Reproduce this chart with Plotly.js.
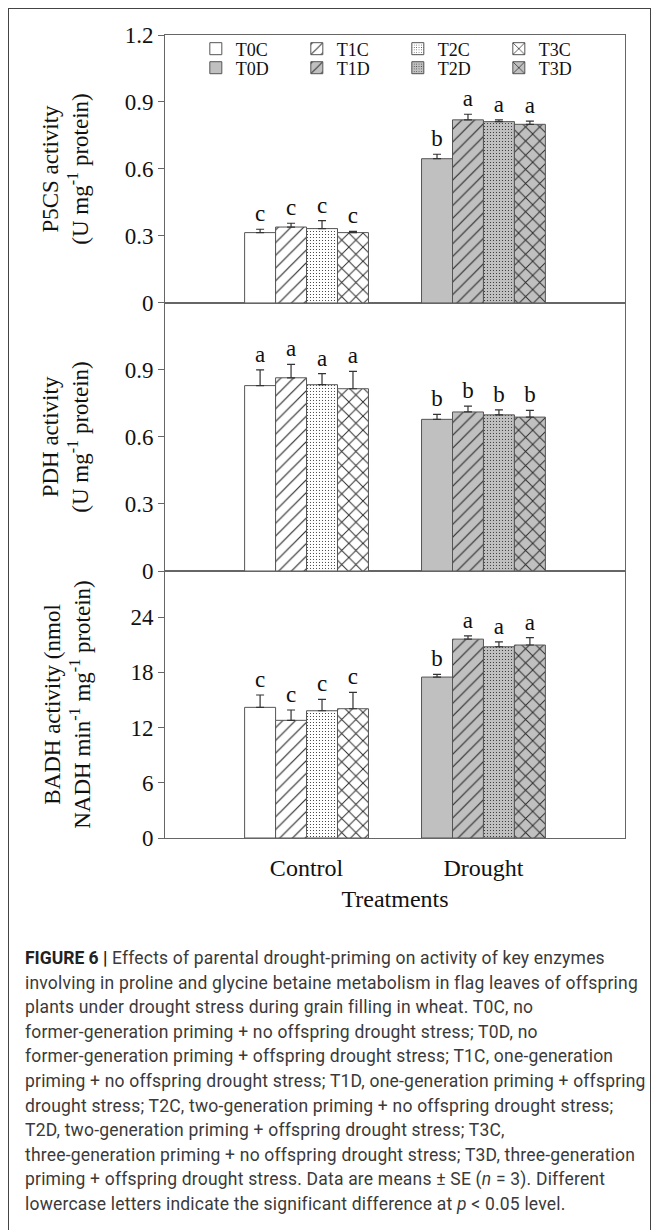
<!DOCTYPE html>
<html>
<head>
<meta charset="utf-8">
<script src="https://cdn.plot.ly/plotly-3.0.1.min.js"></script>
<style>
  html, body { margin:0; padding:0; background:#fff; }
  #wrap { position:relative; width:657px; height:1230px; overflow:hidden; }
  #frame { position:absolute; left:8px; top:8px; width:643px; height:1240px; border:1.5px solid #444; box-sizing:border-box; }
  #chart { position:absolute; left:0; top:0; width:657px; height:940px; }
  #caption { position:absolute; left:25px; top:946px; font-family:Roboto, "Liberation Sans", sans-serif; font-size:17.5px; letter-spacing:0.2px; line-height:24.6px; color:#3a3a3a; white-space:nowrap; }
  #caption b { color:#222; letter-spacing:0; }
</style>
</head>
<body>
<div id="wrap">
  <div id="frame"></div>
  <div id="chart"></div>
  <div id="caption">
    <b>FIGURE 6 |</b> Effects of parental drought-priming on activity of key enzymes<br>
    involving in proline and glycine betaine metabolism in flag leaves of offspring<br>
    plants under drought stress during grain filling in wheat. T0C, no<br>
    former-generation priming + no offspring drought stress; T0D, no<br>
    former-generation priming + offspring drought stress; T1C, one-generation<br>
    priming + no offspring drought stress; T1D, one-generation priming + offspring<br>
    drought stress; T2C, two-generation priming + no offspring drought stress;<br>
    T2D, two-generation priming + offspring drought stress; T3C,<br>
    three-generation priming + no offspring drought stress; T3D, three-generation<br>
    priming + offspring drought stress. Data are means ± SE (<i>n</i> = 3). Different<br>
    lowercase letters indicate the significant difference at <i>p</i> &lt; 0.05 level.
  </div>
</div>
<script>
// ---------------- data ----------------
const categories = ['Control', 'Drought'];
const seriesNames = ['T0', 'T1', 'T2', 'T3'];

// P5CS activity (U mg-1 protein)
const p5csControl   = [0.315, 0.340, 0.333, 0.315];
const p5csControlSE = [0.015, 0.017, 0.036, 0.006];
const p5csDrought   = [0.646, 0.820, 0.812, 0.800];
const p5csDroughtSE = [0.020, 0.025, 0.008, 0.014];
const p5csLettersC  = ['c', 'c', 'c', 'c'];
const p5csLettersD  = ['b', 'a', 'a', 'a'];

// PDH activity (U mg-1 protein)
const pdhControl   = [0.830, 0.865, 0.834, 0.816];
const pdhControlSE = [0.070, 0.060, 0.050, 0.078];
const pdhDrought   = [0.679, 0.712, 0.699, 0.689];
const pdhDroughtSE = [0.022, 0.026, 0.022, 0.030];
const pdhLettersC  = ['a', 'a', 'a', 'a'];
const pdhLettersD  = ['b', 'b', 'b', 'b'];

// BADH activity (nmol NADH min-1 mg-1 protein)
const badhControl   = [14.19, 12.78, 13.82, 14.04];
const badhControlSE = [1.34, 1.12, 1.24, 1.78];
const badhDrought   = [17.48, 21.60, 20.77, 20.96];
const badhDroughtSE = [0.29, 0.35, 0.54, 0.80];
const badhLettersC  = ['c', 'c', 'c', 'c'];
const badhLettersD  = ['b', 'a', 'a', 'a'];

const p5csTicks = [0, 0.3, 0.6, 0.9, 1.2];
const p5csTickText = ['0', '0.3', '0.6', '0.9', '1.2'];
const pdhTicks = [0, 0.3, 0.6, 0.9];
const pdhTickText = ['0', '0.3', '0.6', '0.9'];
const badhTicks = [0, 6, 12, 18, 24];

// ---------------- styles ----------------
const SERIF = '"Liberation Serif", "Times New Roman", serif';
const patterns = [
  { shape: '' },
  { shape: '/', size: 9, solidity: 0.13 },
  { shape: '.', size: 3, solidity: 0.12 },
  { shape: 'x', size: 10, solidity: 0.18 }
];
const ctrlColor = '#ffffff';
const drColor = '#c0c0c0';
const edge = '#555555';

function pat(i, bg) {
  const p = patterns[i];
  if (!p.shape) return { shape: '' };
  return { shape: p.shape, size: p.size, solidity: p.solidity, fgcolor: '#2a2a2a', bgcolor: bg, fillmode: 'replace' };
}

const traces = [];
function panel(ctrl, ctrlSE, dr, drSE, lc, ld, xa, ya, withLegend) {
  for (let i = 0; i < 4; i++) {
    traces.push({
      type: 'bar', x: categories, y: [ctrl[i], null],
      name: seriesNames[i] + 'C', offsetgroup: seriesNames[i],
      xaxis: xa, yaxis: ya, legend: 'legend', showlegend: withLegend,
      marker: { color: ctrlColor, pattern: pat(i, ctrlColor), line: { color: edge, width: 1 } },
      error_y: { type: 'data', symmetric: false, array: [ctrlSE[i], null], arrayminus: [0, null], color: '#333', thickness: 1.2, width: 4 },
      hoverinfo: 'skip'
    });
  }
  for (let i = 0; i < 4; i++) {
    traces.push({
      type: 'bar', x: categories, y: [null, dr[i]],
      name: seriesNames[i] + 'D', offsetgroup: seriesNames[i],
      xaxis: xa, yaxis: ya, legend: 'legend2', showlegend: withLegend,
      marker: { color: drColor, pattern: pat(i, drColor), line: { color: edge, width: 1 } },
      error_y: { type: 'data', symmetric: false, array: [null, drSE[i]], arrayminus: [null, 0], color: '#333', thickness: 1.2, width: 4 },
      hoverinfo: 'skip'
    });
  }
  // significance letters above error bars (invisible bars reaching mean + SE)
  for (let i = 0; i < 4; i++) {
    traces.push({
      type: 'bar', x: categories, y: [ctrl[i] + ctrlSE[i], dr[i] + drSE[i]],
      text: [lc[i], ld[i]], textposition: 'outside', cliponaxis: false, constraintext: 'none',
      textfont: { family: SERIF, size: 23, color: '#111' },
      offsetgroup: seriesNames[i], xaxis: xa, yaxis: ya, showlegend: false,
      marker: { color: 'rgba(0,0,0,0)', line: { width: 0 } }, hoverinfo: 'skip'
    });
  }
}
panel(badhControl, badhControlSE, badhDrought, badhDroughtSE, badhLettersC, badhLettersD, 'x', 'y', false);
panel(pdhControl, pdhControlSE, pdhDrought, pdhDroughtSE, pdhLettersC, pdhLettersD, 'x2', 'y2', false);
panel(p5csControl, p5csControlSE, p5csDrought, p5csDroughtSE, p5csLettersC, p5csLettersD, 'x3', 'y3', true);

const axLine = '#666666';
const baseX = {
  range: [-0.8, 1.8], showline: true, mirror: true, linecolor: axLine, linewidth: 1,
  showgrid: false, zeroline: false, fixedrange: true
};
const baseY = {
  showline: true, mirror: true, linecolor: axLine, linewidth: 1, ticks: 'outside', ticklen: 6,
  tickcolor: axLine, showgrid: false, zeroline: false, tickfont: { family: SERIF, size: 23, color: '#111' },
  tickmode: 'array'
};

const legendBase = {
  orientation: 'h', x: 0.067, xanchor: 'left', yanchor: 'middle',
  entrywidth: 56, entrywidthmode: 'pixels', itemwidth: 30, traceorder: 'normal',
  font: { family: SERIF, size: 18, color: '#111' }, bgcolor: 'rgba(0,0,0,0)', borderwidth: 0
};

const layout = {
  width: 657, height: 940,
  margin: { l: 165, r: 32, t: 35, b: 102 },
  paper_bgcolor: 'rgba(0,0,0,0)', plot_bgcolor: '#ffffff',
  barmode: 'group', bargap: 0.30, bargroupgap: 0,
  font: { family: SERIF, size: 22, color: '#111' },
  showlegend: true,
  xaxis: Object.assign({}, baseX, {
    anchor: 'y', ticks: 'inside', ticklen: 7, tickcolor: axLine,
    tickfont: { family: SERIF, size: 24, color: '#111' }, ticklabelstandoff: 8,
    title: { text: 'Treatments', font: { family: SERIF, size: 24, color: '#111' }, standoff: 10 }
  }),
  xaxis2: Object.assign({}, baseX, { anchor: 'y2', matches: 'x', showticklabels: false, ticks: '' }),
  xaxis3: Object.assign({}, baseX, { anchor: 'y3', matches: 'x', showticklabels: false, ticks: '' }),
  yaxis: Object.assign({}, baseY, {
    domain: [0, 0.3325], range: [0, 29], tickvals: badhTicks,
    title: { text: 'BADH activity (nmol<br>NADH min<sup>-1</sup> mg<sup>-1</sup> protein)', font: { family: SERIF, size: 23, color: '#111' }, standoff: 33 }
  }),
  yaxis2: Object.assign({}, baseY, {
    domain: [0.3325, 0.6663], range: [0, 1.2], tickvals: pdhTicks, ticktext: pdhTickText,
    title: { text: 'PDH activity<br>(U mg<sup>-1</sup> protein)', font: { family: SERIF, size: 23, color: '#111' }, standoff: 29 }
  }),
  yaxis3: Object.assign({}, baseY, {
    domain: [0.6663, 1], range: [0, 1.2], tickvals: p5csTicks, ticktext: p5csTickText,
    title: { text: 'P5CS activity<br>(U mg<sup>-1</sup> protein)', font: { family: SERIF, size: 23, color: '#111' }, standoff: 29 }
  }),
  legend: Object.assign({}, legendBase, { y: 0.9826 }),
  legend2: Object.assign({}, legendBase, { y: 0.9589 })
};

Plotly.newPlot('chart', traces, layout, { staticPlot: true, displayModeBar: false });
</script>
</body>
</html>
